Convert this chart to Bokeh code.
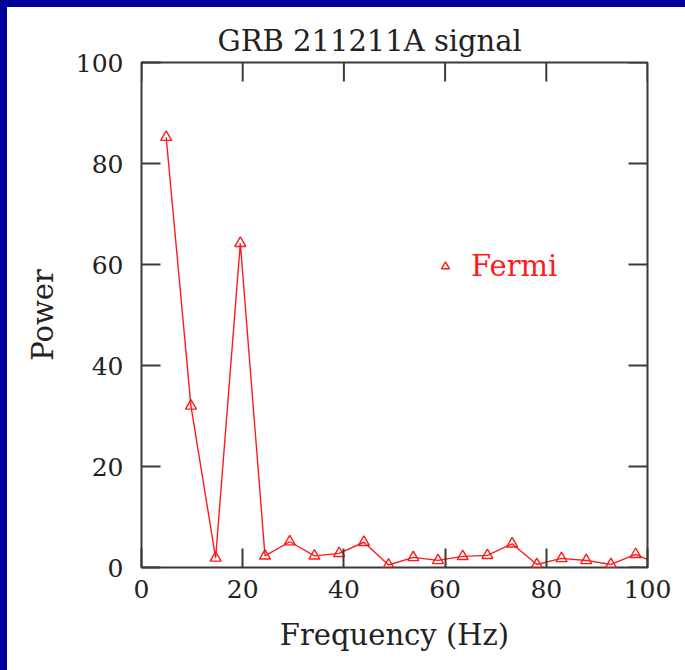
from bokeh.plotting import figure
from bokeh.models import ColumnDataSource, Range1d, FixedTicker, Legend, LegendItem
from bokeh.layouts import column
from bokeh.embed import file_html
from bokeh.resources import INLINE

# Data
freq_hz = [4.88, 9.77, 14.65, 19.53, 24.41, 29.30, 34.18, 39.06, 43.95, 48.83,
           53.71, 58.59, 63.48, 68.36, 73.24, 78.13, 83.01, 87.89, 92.77, 97.66, 102.54]
power = [85.2, 32.0, 1.9, 64.2, 2.3, 5.1, 2.3, 2.8, 5.0, 0.5,
         2.0, 1.4, 2.2, 2.4, 4.7, 0.6, 1.8, 1.4, 0.6, 2.6, 0.5]
x_ticks = [0, 20, 40, 60, 80, 100]
y_ticks = [0, 20, 40, 60, 80, 100]
title_text = "GRB 211211A signal"
series_name = "Fermi"

FONT = "DejaVu Serif"
TXT = "#222222"
AX = "#3a3a3a"
RED = "#ff1a1a"

X0, X1, Y0, Y1 = 0, 100, 0, 100
FRAME_W, FRAME_H = 506, 505
TICK_PX = 19

src = ColumnDataSource(data=dict(f=freq_hz, p=power))

p = figure(width=678, height=663, output_backend="svg", toolbar_location=None,
           x_range=Range1d(X0, X1), y_range=Range1d(Y0, Y1),
           min_border_left=134, min_border_right=38, min_border_top=55, min_border_bottom=103,
           background_fill_color="white", border_fill_color="white")
p.margin = (7, 0, 0, 7)

p.title.text = title_text
p.title.text_font = FONT
p.title.text_font_size = "29px"
p.title.text_font_style = "normal"
p.title.text_color = TXT
p.title.align = "left"
p.title.offset = 76
p.title.standoff = 9

p.grid.visible = False
p.outline_line_color = AX
p.outline_line_width = 2
p.outline_line_alpha = 1.0

for ax, ticks in ((p.xaxis[0], x_ticks), (p.yaxis[0], y_ticks)):
    ax.ticker = FixedTicker(ticks=ticks)
    ax.major_tick_in = TICK_PX
    ax.major_tick_out = 0
    ax.minor_tick_line_color = None
    ax.major_tick_line_color = AX
    ax.major_tick_line_width = 2
    ax.axis_line_color = None
    ax.major_label_text_font = FONT
    ax.major_label_text_color = TXT
    ax.major_label_text_font_size = "25px"
    ax.axis_label_text_font = FONT
    ax.axis_label_text_color = TXT
    ax.axis_label_text_font_size = "29px"
    ax.axis_label_text_font_style = "normal"

p.xaxis[0].axis_label = "Frequency (Hz)"
p.yaxis[0].axis_label = "Power"
p.xaxis[0].major_label_standoff = 12
p.yaxis[0].major_label_standoff = 18
p.xaxis[0].axis_label_standoff = 17
p.yaxis[0].axis_label_standoff = 13

# inward ticks on the top and right edges of the frame (mirrors of the axis ticks)
dy = TICK_PX * (Y1 - Y0) / FRAME_H
dx = TICK_PX * (X1 - X0) / FRAME_W
p.segment(x0=x_ticks, y0=[Y1] * len(x_ticks), x1=x_ticks, y1=[Y1 - dy] * len(x_ticks),
          line_color=AX, line_width=2)
p.segment(x0=[X1] * len(y_ticks), y0=y_ticks, x1=[X1 - dx] * len(y_ticks), y1=y_ticks,
          line_color=AX, line_width=2)

p.line("f", "p", source=src, line_color=RED, line_width=1.4)
sc = p.scatter("f", "p", source=src, marker="triangle", size=11,
               fill_color=None, line_color=RED, line_width=1.4)

legend = Legend(items=[LegendItem(label=series_name, renderers=[sc])],
                location=(294, 284), padding=0, margin=0, spacing=0,
                glyph_width=20, glyph_height=30, label_height=30,
                label_standoff=16, border_line_color=None,
                background_fill_alpha=0,
                label_text_font=FONT, label_text_font_size="29px",
                label_text_color=RED)
p.add_layout(legend, "center")

BLUE = "#00009c"
bg = (f"linear-gradient({BLUE},{BLUE}) top left / 100% 7px no-repeat, "
      f"linear-gradient({BLUE},{BLUE}) top left / 7px 100% no-repeat, white")
layout = column(p, styles={"background": bg}, width=685, height=670)

open("out.html", "w").write(file_html(layout, INLINE))
